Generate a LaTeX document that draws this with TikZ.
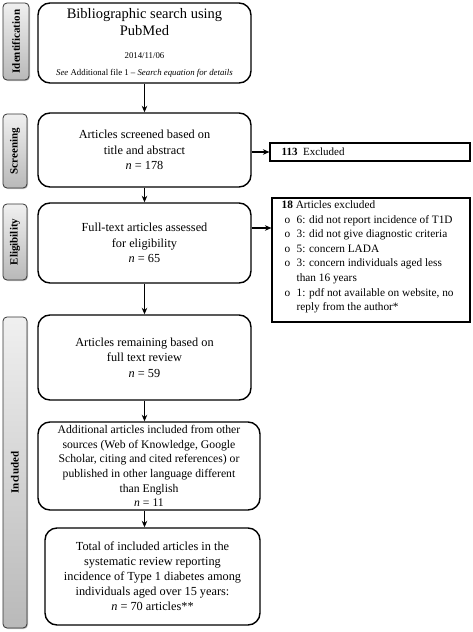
\documentclass[tikz,border=0pt]{standalone}
\usepackage{fontspec}
\setmainfont{Liberation Serif}
\usetikzlibrary{shadows,arrows.meta}
\begin{document}
\begin{tikzpicture}[x=1pt,y=-1pt,
  mainbox/.style={draw=black, line width=1.4pt, rounded corners=12pt, fill=white, align=center, inner sep=0pt},
  exbox/.style={draw=black, line width=1.1pt, fill=white, inner sep=0pt},
  sidebox/.style={draw=black!80, line width=0.8pt, rounded corners=4pt, top color=gray!12, bottom color=gray!55, inner sep=0pt,
     drop shadow={shadow xshift=1pt, shadow yshift=-1pt, opacity=0.45}},
  sidetext/.style={rotate=90, font=\fontsize{11}{13}\selectfont\bfseries},
  arr/.style={-{Stealth[length=6.5pt,width=5.5pt]}, line width=1.1pt},
  mtext/.style={font=\fontsize{12.3}{15.5}\selectfont}
]
\useasboundingbox (0,0) rectangle (473,632);
% side labels
\node[sidebox, minimum width=26pt, minimum height=77pt] (s1) at (16,41.5) {};
\node[sidetext] (t1) at (s1) {Identification};
\node[sidebox, minimum width=24pt, minimum height=74pt] (s2) at (15,151) {};
\node[sidetext] (t2) at (s2) {Screening};
\node[sidebox, minimum width=24pt, minimum height=76pt] (s3) at (15,242) {};
\node[sidetext] (t3) at (s3) {Eligibility};
\node[sidebox, minimum width=24pt, minimum height=311pt] (s4) at (15,472.5) {};
\node[sidetext] (t4) at (s4) {Included};
% main boxes
\node[mainbox, font=\fontsize{14.5}{17.5}\selectfont, minimum width=213pt, minimum height=80pt] (b1) at (144.5,43) {Bibliographic search using\\PubMed\\[5pt]\fontsize{8.8}{11}\selectfont 2014/11/06\\\fontsize{8.8}{13}\selectfont\textit{See} Additional file 1 – \textit{Search equation for details}};
\node[mainbox, mtext, minimum width=213pt, minimum height=74pt] (b2) at (144.5,150) {Articles screened based on\\title and abstract\\\textit{n} = 178};
\node[mainbox, mtext, minimum width=213pt, minimum height=80pt] (b3) at (144.5,243) {Full-text articles assessed\\for eligibility\\\textit{n} = 65};
\node[mainbox, mtext, minimum width=213pt, minimum height=85pt] (b5) at (144.5,357.5) {Articles remaining based on\\full text review\\\textit{n} = 59};
\node[mainbox, font=\fontsize{11.7}{14.6}\selectfont, minimum width=222pt, minimum height=88pt] (b6) at (149,466) {Additional articles included from other\\sources (Web of Knowledge, Google\\Scholar, citing and cited references) or\\published in other language different\\than English\\\textit{n} = 11};
\node[mainbox, font=\fontsize{12.3}{15}\selectfont, minimum width=215pt, minimum height=97pt] (b7) at (152.5,576.5) {Total of included articles in the\\systematic review reporting\\incidence of Type 1 diabetes among\\individuals aged over 15 years:\\\textit{n} = 70 articles**};
% exclusion boxes
\node[exbox, minimum width=200pt, minimum height=18pt] (ex) at (370,152) {};
\node[anchor=west, font=\fontsize{11}{12}\selectfont, inner sep=0pt] (ext) at ([xshift=12pt]ex.west) {\textbf{113}\ \ Excluded};
\node[exbox, minimum width=198pt, minimum height=124pt] (ex4) at (371,260) {};
\node[anchor=north west, align=left, inner sep=0pt, font=\fontsize{11.3}{14.6}\selectfont] (ex4t) at ([xshift=10pt,yshift=-3pt]ex4.north west) {\textbf{18} Articles excluded\\
   \hspace*{3pt}\makebox[12pt][l]{o}6: did not report incidence of T1D\\
   \hspace*{3pt}\makebox[12pt][l]{o}3: did not give diagnostic criteria\\
   \hspace*{3pt}\makebox[12pt][l]{o}5: concern LADA\\
   \hspace*{3pt}\makebox[12pt][l]{o}3: concern individuals aged less\\
   \hspace*{15pt}than 16 years\\
   \hspace*{3pt}\makebox[12pt][l]{o}1: pdf not available on website, no\\
   \hspace*{15pt}reply from the author*};
% arrows
\draw[arr] (b1.south) -- (b2.north);
\draw[arr] (b2.south) -- (b3.north);
\draw[arr] (b3.south) -- (b5.north);
\draw[arr] (b5.south) -- (b5.south |- b6.north);
\draw[arr] (b5.south |- b6.south) -- (b5.south |- b7.north);
\draw[arr] (b2.east |- ex.west) -- (ex.west);
\draw[arr] ([yshift=15pt]b3.east) -- ([yshift=15pt]b3.east -| ex4.west);
\end{tikzpicture}
\end{document}
